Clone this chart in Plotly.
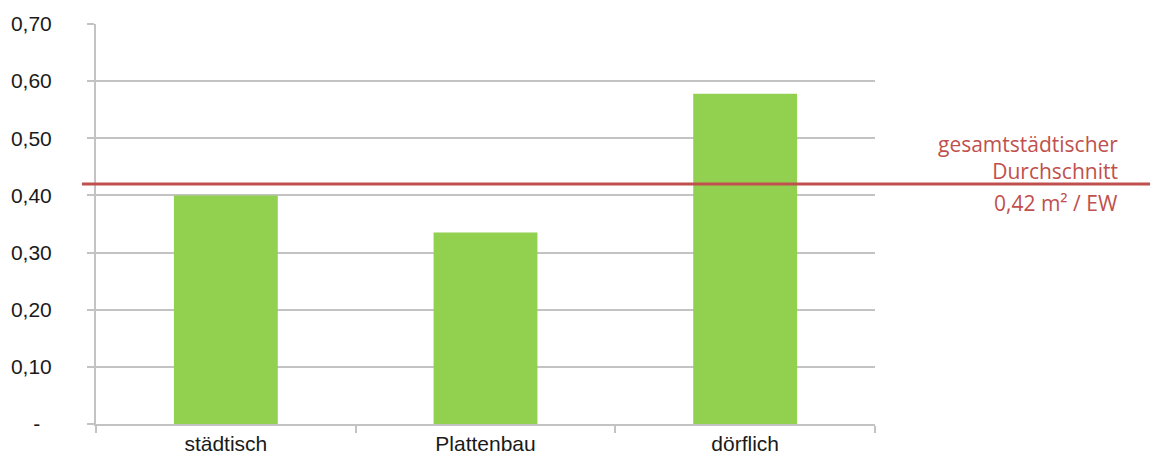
import plotly.graph_objects as go

categories = ["städtisch", "Plattenbau", "dörflich"]
values = [0.40, 0.335, 0.578]
average = 0.42
y_tickvals = [0, 0.1, 0.2, 0.3, 0.4, 0.5, 0.6, 0.7]
y_ticktext = ["-\u00a0\u00a0", "0,10", "0,20", "0,30", "0,40", "0,50", "0,60", "0,70"]
label_above = "gesamtstädtischer<br>Durchschnitt"
label_below = "0,42 m² / EW"

grid_col = "#c3c3c3"
red = "#c0504d"

fig = go.Figure()
fig.add_trace(go.Bar(x=categories, y=values, marker=dict(color="#92d050", line=dict(width=0)),
                     width=0.4, showlegend=False))

# page body has an 8px margin; figure sized to fit the 1158x456 window
fig.update_layout(
    width=1150, height=448,
    margin=dict(l=88, r=283, t=16, b=32),
    paper_bgcolor="white", plot_bgcolor="white",
    font=dict(family="Liberation Sans, Arial, sans-serif", size=21, color="#1a1a1a"),
    bargap=0.6,
    xaxis=dict(showgrid=False, showline=True, linecolor=grid_col, linewidth=2,
               ticks="outside", tickson="boundaries", ticklen=7, tickcolor=grid_col, tickwidth=2,
               tickfont=dict(size=21), automargin=False),
    yaxis=dict(range=[0, 0.7], tickvals=y_tickvals, ticktext=y_ticktext,
               showgrid=True, gridcolor=grid_col, gridwidth=1.5,
               showline=True, linecolor=grid_col, linewidth=2,
               ticks="outside", ticklen=7, tickcolor=grid_col, tickwidth=2,
               ticklabelstandoff=31, zeroline=False, tickfont=dict(size=21), automargin=False),
)

fig.add_shape(type="line", xref="paper", yref="y", x0=-0.018, x1=1.37, y0=average, y1=average,
              line=dict(color=red, width=3))

fig.add_annotation(xref="paper", yref="y", x=1.3145, y=average, xanchor="right", yanchor="middle",
                   text=label_above, showarrow=False, align="right", yshift=27,
                   font=dict(family="Open Sans, Noto Sans, sans-serif", size=21, color=red))
fig.add_annotation(xref="paper", yref="y", x=1.3145, y=average, xanchor="right", yanchor="middle",
                   text=label_below, showarrow=False, align="right", yshift=-19,
                   font=dict(family="Open Sans, Noto Sans, sans-serif", size=21, color=red))

fig.write_html("out.html")
